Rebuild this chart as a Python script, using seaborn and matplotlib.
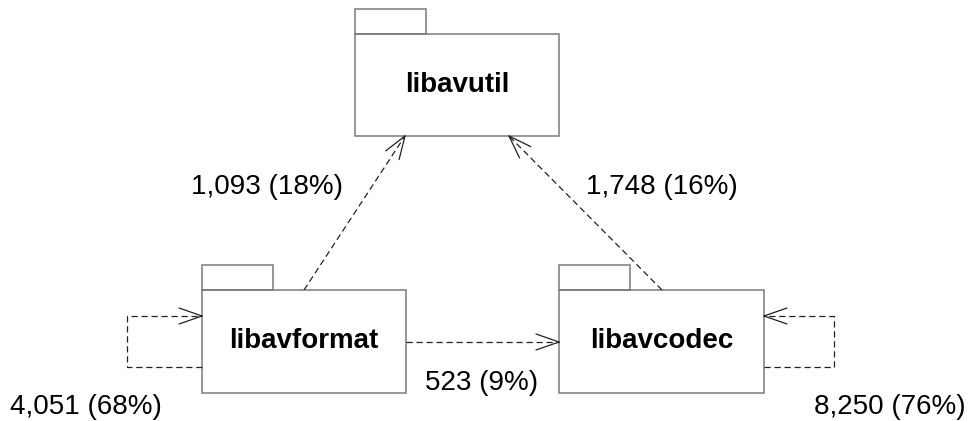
import numpy as np
import matplotlib
matplotlib.use("Agg")
import matplotlib.pyplot as plt
import seaborn as sns

# data: packages and dependency counts
packages = ["libavutil", "libavformat", "libavcodec"]
dep_src = ["libavformat", "libavcodec", "libavformat", "libavformat", "libavcodec"]
dep_dst = ["libavutil", "libavutil", "libavcodec", "libavformat", "libavcodec"]
dep_count = [1093, 1748, 523, 4051, 8250]
dep_pct = [18, 16, 9, 68, 76]

sns.set_theme(style="white")
plt.rcParams['font.family'] = ['Liberation Sans', 'DejaVu Sans']

# layout in pixel units (x0, y0 of body, width, height)
boxes = {
    "libavutil": (355, 34, 204, 102),
    "libavformat": (202, 290, 204, 103),
    "libavcodec": (559, 290, 205, 103),
}
tab_w, tab_h = 71, 25
box_col = "#7a7a7a"
line_col = "#222222"

fig = plt.figure(figsize=(9.72, 4.21), dpi=100)
ax = fig.add_axes([0, 0, 1, 1])
ax.set_xlim(0, 972)
ax.set_ylim(421, 0)
ax.axis("off")

for name in packages:
    x, y, w, h = boxes[name]
    ax.add_patch(plt.Rectangle((x, y - tab_h), tab_w, tab_h, fill=False,
                               ec=box_col, lw=1.1))
    ax.add_patch(plt.Rectangle((x, y), w, h, fill=False, ec=box_col, lw=1.1))
    ax.text(x + w / 2, y + h / 2, name, ha="center", va="center",
            fontsize=20, fontweight="bold", color="black")


def head(p_end, p_prev, length=23, half=8):
    p_end = np.array(p_end, float)
    d = p_end - np.array(p_prev, float)
    d /= np.hypot(*d)
    n = np.array([-d[1], d[0]])
    base = p_end - d * length
    for s in (1, -1):
        q = base + s * n * half
        ax.plot([q[0], p_end[0]], [q[1], p_end[1]], color=line_col, lw=0.9,
                solid_capstyle="round")


def path(pts):
    pts = np.array(pts, float)
    ax.plot(pts[:, 0], pts[:, 1], color=line_col, lw=0.9,
            linestyle=(0, (5, 3)))
    head(pts[-1], pts[-2])


# routes for each dependency
routes = [
    [(304, 290), (405, 136)],
    [(662, 290), (509, 136)],
    [(406, 342), (559, 342)],
    [(202, 367), (127, 367), (127, 316), (202, 316)],
    [(764, 367), (834, 367), (834, 316), (764, 316)],
]
label_pos = [(267, 187), (662, 187), (482, 383), (86, 407), (890, 407)]

for i in range(len(dep_count)):
    path(routes[i])
    ax.text(label_pos[i][0], label_pos[i][1],
            f"{dep_count[i]:,} ({dep_pct[i]}%)",
            ha="center", va="center", fontsize=20, color="black")

fig.savefig("out.png", dpi=100, facecolor="white")
